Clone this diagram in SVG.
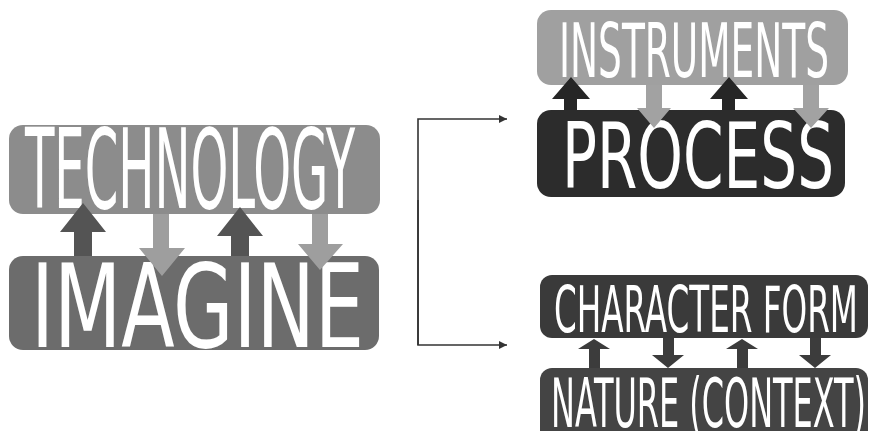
<svg xmlns="http://www.w3.org/2000/svg" width="873" height="431" viewBox="0 0 873 431">
<defs>
<style>
.lbl{fill:#ffffff;font-family:"Liberation Sans Narrow","DejaVu Sans Condensed","Liberation Sans",sans-serif;font-stretch:condensed;}
.conn{fill:none;stroke:#333333;stroke-width:1.6;}
</style>
<marker id="ah" viewBox="0 0 10 10" refX="10" refY="5" markerWidth="8" markerHeight="8" markerUnits="userSpaceOnUse" orient="auto">
<path d="M0,0 L10,5 L0,10 Z" fill="#333333"/>
</marker>
</defs>
<rect width="873" height="431" fill="#ffffff"/>

<g id="technology">
<rect x="9" y="125" width="371" height="89" rx="14" fill="#8c8c8c"/>
<text class="lbl" x="25" y="208" font-size="110" textLength="330" lengthAdjust="spacingAndGlyphs">TECHNOLOGY</text>
</g>
<g id="imagine">
<rect x="9" y="256" width="370" height="94" rx="14" fill="#6c6c6c"/>
<text class="lbl" x="31" y="347" font-size="115" textLength="333" lengthAdjust="spacingAndGlyphs">IMAGINE</text>
</g>
<g id="instruments">
<rect x="537" y="10" width="311" height="75" rx="14" fill="#a0a0a0"/>
<text class="lbl" x="559" y="77" font-size="75" textLength="270" lengthAdjust="spacingAndGlyphs">INSTRUMENTS</text>
</g>
<g id="process">
<rect x="537" y="110" width="308" height="87" rx="14" fill="#2c2c2c"/>
<text class="lbl" x="562" y="188" font-size="90" textLength="272" lengthAdjust="spacingAndGlyphs">PROCESS</text>
</g>
<g id="character-form">
<rect x="540" y="275" width="328" height="63" rx="12" fill="#3a3a3a"/>
<text class="lbl" x="554" y="332" font-size="64" textLength="304" lengthAdjust="spacingAndGlyphs">CHARACTER FORM</text>
</g>
<g id="nature-context">
<rect x="540" y="368" width="328" height="75" rx="12" fill="#444444"/>
<text class="lbl" x="551" y="427" font-size="68" textLength="315" lengthAdjust="spacingAndGlyphs">NATURE (CONTEXT)</text>
</g>

<g id="connectors">
<path class="conn" d="M418,345 L418,119 L507,119" marker-end="url(#ah)"/>
<path class="conn" d="M418,200 L418,345 L507,345" marker-end="url(#ah)"/>
<!-- technology / imagine arrows -->
<polygon points="74,256 74,232 60,232 83,203 106,232 92,232 92,256" fill="#545454"/>
<polygon points="231,256 231,236 217,236 240,207 263,236 249,236 249,256" fill="#545454"/>
<polygon points="153,214 153,248 139,248 162,276 185,248 169,248 169,214" fill="#9e9e9e"/>
<polygon points="312,214 312,244 298,244 320,270 343,244 328,244 328,214" fill="#9e9e9e"/>
<!-- instruments / process arrows -->
<polygon points="564,110 564,99 552,99 571,77 590,99 577,99 577,110" fill="#262626"/>
<polygon points="722,110 722,99 710,99 729,77 748,99 735,99 735,110" fill="#262626"/>
<polygon points="646,85 646,108 637,108 654,128 671,108 662,108 662,85" fill="#a2a2a2"/>
<polygon points="803,85 803,108 793,108 811,128 829,108 819,108 819,85" fill="#a2a2a2"/>
<!-- character form / nature arrows -->
<polygon points="589,368 589,349 578,349 594,339 610,349 600,349 600,368" fill="#3c3c3c"/>
<polygon points="737,368 737,349 726,349 742,339 758,349 748,349 748,368" fill="#3c3c3c"/>
<polygon points="663,338 663,355 652,355 668,368 684,355 674,355 674,338" fill="#3c3c3c"/>
<polygon points="810,338 810,355 799,355 815,368 831,355 821,355 821,338" fill="#3c3c3c"/>
</g>
</svg>
